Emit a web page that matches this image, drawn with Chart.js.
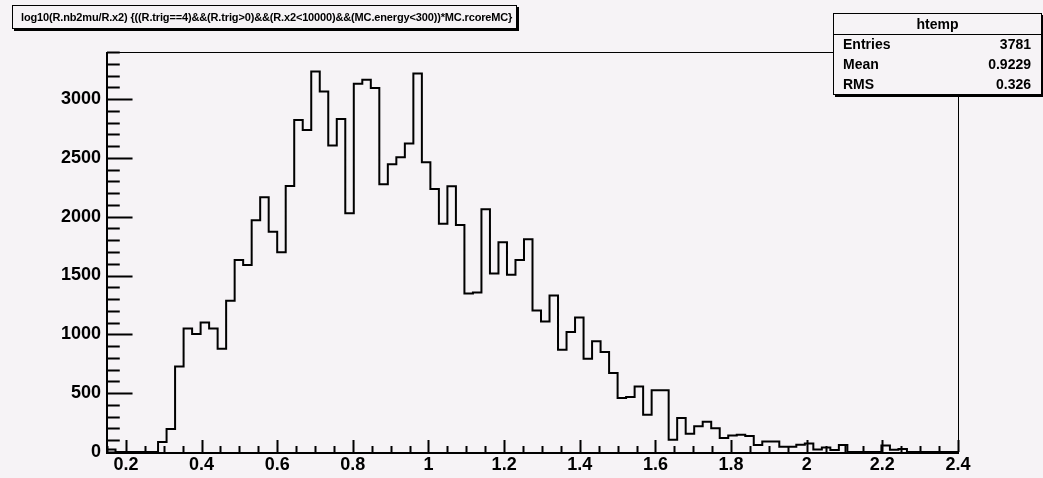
<!DOCTYPE html>
<html>
<head>
<meta charset="utf-8">
<script src="https://cdn.jsdelivr.net/npm/chart.js@4/dist/chart.umd.min.js"></script>
<style>
  html, body { margin: 0; padding: 0; background: #f6f3f6; }
  #wrap { position: relative; width: 1043px; height: 478px; }
  canvas { position: absolute; left: 0; top: 0; }
  .box {
    position: absolute; background: #f6f3f6; border: 1px solid #000;
    box-shadow: 2px 2px 0 #000; font: bold 11px "Liberation Sans", Arial, sans-serif; color: #000;
  }
  #title { left: 12px; top: 5px; width: 495px; height: 22px; line-height: 22px; padding-left: 8px; box-sizing: content-box; white-space: nowrap; letter-spacing: -0.15px; overflow: hidden; }
  #stats { left: 833px; top: 13px; width: 207px; height: 80px; font-size: 14px; }
  #stats .head { height: 20px; line-height: 20px; text-align: center; border-bottom: 1px solid #000; }
  #stats .row { height: 20px; line-height: 18px; padding: 0 10px 0 9px; display: flex; justify-content: space-between; }
</style>
</head>
<body>
<div id="wrap">
  <canvas id="grafik" width="1043" height="478"></canvas>
  <div class="box" id="title">log10(R.nb2mu/R.x2) {((R.trig==4)&amp;&amp;(R.trig&gt;0)&amp;&amp;(R.x2&lt;10000)&amp;&amp;(MC.energy&lt;300))*MC.rcoreMC}</div>
  <div class="box" id="stats"></div>
</div>
<script>
// histogram: 100 bins from 0.15 to 2.4
var xMin = 0.15
var xMax = 2.4
var nBins = 100
var counts = [
  22, 0, 0, 0, 0, 0, 85, 195, 727, 1050,
  1002, 1100, 1050, 877, 1285, 1633, 1590, 1970, 2165, 1873,
  1698, 2261, 2822, 2737, 3235, 3065, 2606, 2830, 2029, 3130,
  3164, 3093, 2275, 2445, 2505, 2623, 3218, 2462, 2236, 1941,
  2258, 1930, 1347, 1356, 2063, 1517, 1783, 1506, 1633, 1808,
  1203, 1110, 1330, 869, 1019, 1143, 792, 942, 849, 671,
  458, 467, 557, 317, 524, 524, 105, 289, 156, 218,
  258, 202, 118, 140, 147, 135, 60, 90, 90, 45,
  45, 62, 72, 22, 38, 18, 60, 0, 0, 0,
  0, 55, 20, 25, 0, 0, 0, 0, 0, 0
]
var xTicks = [0.2, 0.4, 0.6, 0.8, 1, 1.2, 1.4, 1.6, 1.8, 2, 2.2, 2.4]
var yTicks = [0, 500, 1000, 1500, 2000, 2500, 3000]
var statNames = ['Entries', 'Mean', 'RMS']
var statValues = ['3781', '0.9229', '0.326']

// stats box
var stats = document.getElementById('stats')
stats.innerHTML = '<div class="head">htemp</div>' + statNames.map(function (n, i) {
  return '<div class="row"><span>' + n + '</span><span>' + statValues[i] + '</span></div>'
}).join('')

// step points at bin edges
var binW = (xMax - xMin) / nBins
var pts = counts.map(function (c, i) { return {x: xMin + i * binW, y: c} })
pts.push({x: xMax, y: counts[nBins - 1]})

var frame = {
  id: 'frame',
  beforeDraw: function (chart) {
    var c = chart.ctx
    c.save()
    c.fillStyle = '#f6f3f6'
    c.fillRect(0, 0, chart.width, chart.height)
    c.restore()
  },
  afterDraw: function (chart) {
    var c = chart.ctx, a = chart.chartArea
    var xs = chart.scales.x, ys = chart.scales.y
    c.save()
    c.strokeStyle = '#000'
    c.lineWidth = 1
    c.strokeRect(a.left + 0.5, a.top + 0.5, a.right - a.left, a.bottom - a.top)
    c.lineWidth = 2
    c.beginPath()
    c.moveTo(a.left, a.top); c.lineTo(a.left, a.bottom + 1); c.lineTo(a.right + 1, a.bottom + 1)
    c.stroke()
    // y ticks (major 500, minor 100)
    var yl = (a.right - a.left) * 0.03
    c.lineWidth = 2
    c.beginPath()
    for (var v = 0; v <= ys.max; v += 100) {
      var py = Math.round(ys.getPixelForValue(v)) + 0.5
      c.moveTo(a.left, py)
      c.lineTo(a.left + (v % 500 === 0 ? yl : yl / 2), py)
    }
    c.stroke()
    // x ticks (major 0.2, minor 0.05)
    var xl = (a.bottom - a.top) * 0.03
    c.beginPath()
    for (var k = 3; k <= 48; k++) {
      var px = Math.round(xs.getPixelForValue(k * 0.05)) + 0.5
      c.moveTo(px, a.bottom)
      c.lineTo(px, a.bottom - (k % 4 === 0 ? xl : xl / 2))
    }
    c.stroke()
    c.restore()
  }
}

Chart.defaults.font.family = '"Liberation Sans", Arial, sans-serif'
Chart.defaults.font.weight = 'bold'
Chart.defaults.font.size = 18
Chart.defaults.color = '#000'

var chart = new Chart(document.getElementById('grafik'), {
  type: 'line',
  data: {
    datasets: [{
      label: 'htemp',
      data: pts,
      stepped: 'before',
      borderColor: '#000',
      borderWidth: 2,
      pointRadius: 0,
      fill: false
    }]
  },
  options: {
    responsive: false,
    animation: false,
    layout: {padding: {top: 52, right: 85, left: 0, bottom: 0}},
    plugins: {legend: {display: false}, tooltip: {enabled: false}},
    scales: {
      x: {
        type: 'linear', min: xMin, max: xMax,
        grid: {display: false, drawTicks: false},
        border: {display: false},
        afterBuildTicks: function (s) { s.ticks = xTicks.map(function (v) { return {value: v} }) },
        afterFit: function (s) { s.height = 26 },
        ticks: {padding: 2, maxRotation: 0, autoSkip: false, callback: function (v) { return String(v) }}
      },
      y: {
        type: 'linear', min: 0, max: 3400,
        grid: {display: false, drawTicks: false},
        border: {display: false},
        afterBuildTicks: function (s) { s.ticks = yTicks.map(function (v) { return {value: v} }) },
        afterFit: function (s) { s.width = 107 },
        ticks: {padding: 6, autoSkip: false, callback: function (v) { return String(v) }}
      }
    }
  },
  plugins: [frame]
})
</script>
</body>
</html>
